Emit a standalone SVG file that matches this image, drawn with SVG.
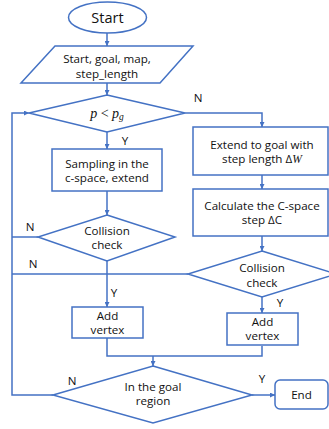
<svg xmlns="http://www.w3.org/2000/svg" width="329" height="429" viewBox="0 0 329 429">
<defs>
<marker id="ah" viewBox="0 0 10 10" refX="10" refY="5" markerWidth="5" markerHeight="5" orient="auto" markerUnits="userSpaceOnUse">
<path d="M0,0 L10,5 L0,10 z" fill="#4472C4"/>
</marker>
<style>
.s{fill:#fff;stroke:#4472C4;stroke-width:1.5}
.c{fill:none;stroke:#4472C4;stroke-width:1.5}
.t{font-family:"Open Sans","Noto Sans",sans-serif;font-size:11.6px;fill:#111;text-anchor:middle}
.l{font-family:"Open Sans","Noto Sans",sans-serif;font-size:11.6px;fill:#111;text-anchor:middle}
.m{font-family:"Liberation Serif",serif;font-size:14px;fill:#111;text-anchor:middle}
</style>
</defs>
<rect width="329" height="429" fill="#fff"/>
<g id="connectors">
<path class="c" d="M107,33 V46" marker-end="url(#ah)"/>
<path class="c" d="M107,83 V95" marker-end="url(#ah)"/>
<path class="c" d="M185,113 H262 V127" marker-end="url(#ah)"/>
<path class="c" d="M107,132 V149" marker-end="url(#ah)"/>
<path class="c" d="M107,191 V215" marker-end="url(#ah)"/>
<path class="c" d="M262,175 V189" marker-end="url(#ah)"/>
<path class="c" d="M262,236 V251" marker-end="url(#ah)"/>
<path class="c" d="M107,261 V307" marker-end="url(#ah)"/>
<path class="c" d="M262,297 V313" marker-end="url(#ah)"/>
<path class="c" d="M38,237 H12"/>
<path class="c" d="M188,274 H12"/>
<path class="c" d="M53,395 H12 V113 H29" marker-end="url(#ah)"/>
<path class="c" d="M107,338 V356 H262 V346"/>
<path class="c" d="M153,356 V366" marker-end="url(#ah)"/>
<path class="c" d="M252,395 H275" marker-end="url(#ah)"/>
<text class="l" x="198" y="102">N</text>
<text class="l" x="125" y="145">Y</text>
<text class="l" x="30" y="231">N</text>
<text class="l" x="33" y="268">N</text>
<text class="l" x="114" y="297">Y</text>
<text class="l" x="280" y="307">Y</text>
<text class="l" x="72" y="385">N</text>
<text class="l" x="262" y="383">Y</text>
</g>
<g id="start">
<ellipse class="s" cx="107.5" cy="17.5" rx="39" ry="15.5"/>
<text class="t" x="107.5" y="23" style="font-size:14.5px">Start</text>
</g>
<g id="input">
<polygon class="s" points="55,46 193,46 160,83 21,83"/>
<text class="t" x="107" y="63">Start, goal, map,</text>
<text class="t" x="107" y="77.5">step_length</text>
</g>
<g id="d1">
<polygon class="s" points="107,95 185,113 107,132 29,113"/>
<text class="m" x="107" y="118"><tspan font-style="italic">p</tspan> &lt; <tspan font-style="italic">p</tspan><tspan font-style="italic" font-size="9.5" dy="2">g</tspan></text>
</g>
<g id="sample">
<rect class="s" x="52" y="149" width="110" height="42"/>
<text class="t" x="107" y="168">Sampling in the</text>
<text class="t" x="107" y="182">c-space, extend</text>
</g>
<g id="cc1">
<polygon class="s" points="107,215 175,237 107,261 38,237"/>
<text class="t" x="107" y="235">Collision</text>
<text class="t" x="107" y="249">check</text>
</g>
<g id="extend">
<rect class="s" x="193" y="127" width="135" height="48"/>
<text class="t" x="262" y="149">Extend to goal with</text>
<text class="t" x="262" y="163">step length Δ<tspan font-family="Liberation Serif" font-style="italic">W</tspan></text>
</g>
<g id="calc">
<rect class="s" x="193" y="189" width="135" height="47"/>
<text class="t" x="262" y="210">Calculate the C-space</text>
<text class="t" x="262" y="224">step ΔC</text>
</g>
<g id="cc2">
<polygon class="s" points="262,251 336,274 262,297 188,274"/>
<text class="t" x="262" y="272">Collision</text>
<text class="t" x="262" y="287">check</text>
</g>
<g id="add1">
<rect class="s" x="72" y="307" width="71" height="31"/>
<text class="t" x="107.5" y="320">Add</text>
<text class="t" x="107.5" y="334">vertex</text>
</g>
<g id="add2">
<rect class="s" x="227" y="313" width="71" height="32"/>
<text class="t" x="262.5" y="326">Add</text>
<text class="t" x="262.5" y="340">vertex</text>
</g>
<g id="goal">
<polygon class="s" points="153,366 252,395 153,423 53,395"/>
<text class="t" x="153" y="391">In the goal</text>
<text class="t" x="153" y="405">region</text>
</g>
<g id="end">
<rect class="s" x="275" y="380" width="53" height="29" rx="5"/>
<text class="t" x="301.5" y="399">End</text>
</g>
</svg>
